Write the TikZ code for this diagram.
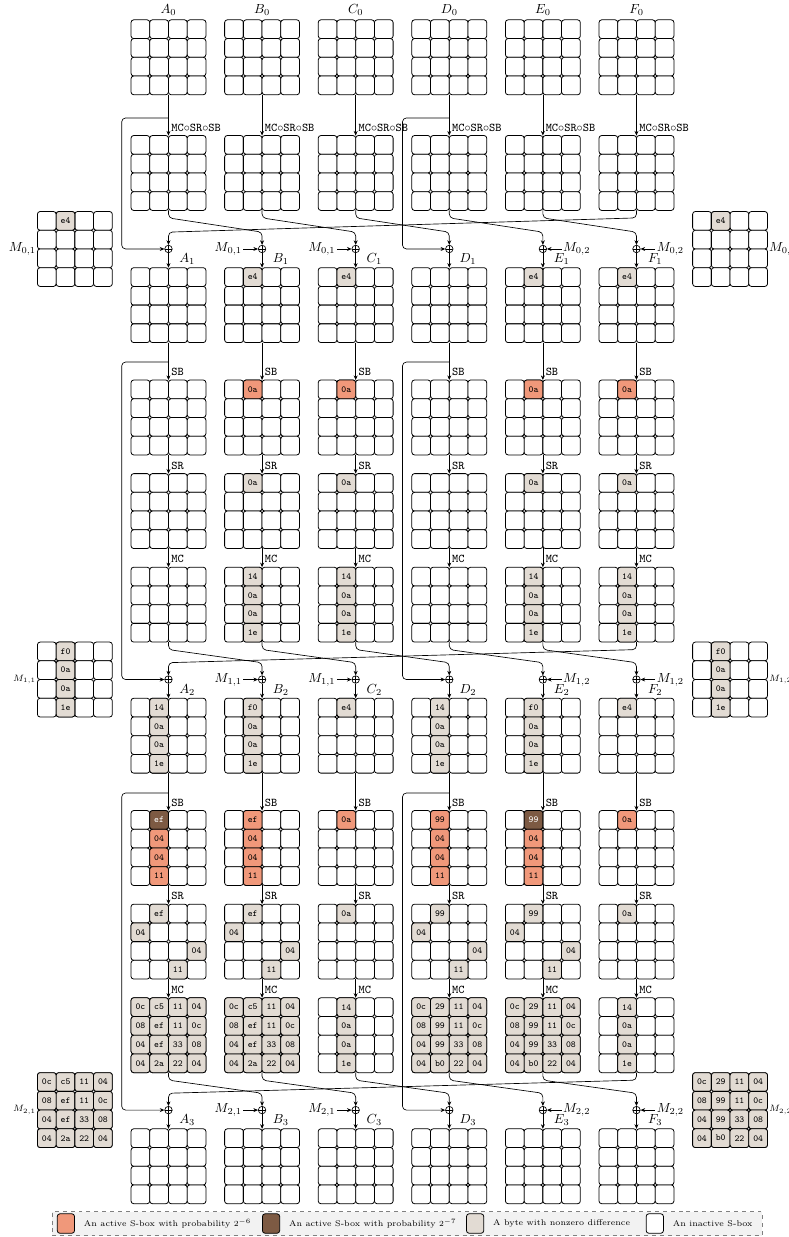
\documentclass[tikz,border=0pt]{standalone}
\usepackage{amssymb}
\usepackage{tikz}
\usetikzlibrary{arrows.meta,positioning,calc}
\definecolor{actsix}{HTML}{F0987A}
\definecolor{actseven}{HTML}{7D5A43}
\definecolor{diffbyte}{HTML}{E2DBD3}
\definecolor{legendbg}{HTML}{F2F2F2}

\newcommand{\sgrid}[2]{%
  \node[gridbox] (#1) at (#2) {};
  \foreach \gx in {0,...,3} \foreach \gy in {0,...,3}
    \node[cell] at ($(#1.north west)+(\gx*0.5+0.25,-\gy*0.5-0.25)$) {};
}
\newcommand{\cellval}[5]{%
  \node[cell,#4] at ($(#1.north west)+(#2*0.5+0.25,-#3*0.5-0.25)$) {#5};}
\newcommand{\colvals}[2]{%
  \foreach \v [count=\k from 0] in {#2} {\cellval{#1}{1}{\k}{dif}{\v}}}
\newcommand{\fullvals}[2]{%
  \foreach \v [count=\k from 0] in {#2} {%
    \pgfmathtruncatemacro\gx{mod(\k,4)}%
    \pgfmathtruncatemacro\gy{div(\k,4)}%
    \cellval{#1}{\gx}{\gy}{dif}{\v}}}

\begin{document}
\begin{tikzpicture}[
gridbox/.style={minimum size=2cm,inner sep=0pt,outer sep=0pt},
cell/.style={draw,rounded corners=2pt,minimum size=0.5cm,inner sep=0pt,line width=0.6pt,
fill=white,font=\ttfamily\scriptsize},
act/.style={fill=actsix},
actb/.style={fill=actseven,text=white},
dif/.style={fill=diffbyte},
xorn/.style={circle,draw,inner sep=0pt,minimum size=0.2cm,line width=0.5pt,
path picture={\draw[line width=0.5pt] (path picture bounding box.north) -- (path picture bounding box.south)
(path picture bounding box.west) -- (path picture bounding box.east);}},
arr/.style={-{Stealth[length=3.5pt,width=3pt]},line width=0.5pt},
oplbl/.style={font=\ttfamily\small,anchor=south west,inner sep=1pt,xshift=1pt,yshift=2pt},
lbl/.style={inner sep=1pt},
legbox/.style={draw=gray,dashed,fill=legendbg,minimum width=18.96cm,minimum height=0.64cm,
inner sep=0pt,line width=0.4pt},
legtxt/.style={font=\fontsize{6.3}{7.5}\selectfont,inner sep=1pt}
]
\useasboundingbox (0,0) rectangle (21.07,-33.04);

\foreach \n/\x in {A/4.5,B/7,C/9.5,D/12,E/14.5,F/17} {
  \sgrid{\n0}{\x,-1.53}
  \sgrid{\n0p}{\x,-4.62}
  \sgrid{\n1}{\x,-8.15}
  \sgrid{\n1sb}{\x,-11.15}
  \sgrid{\n1sr}{\x,-13.65}
  \sgrid{\n1mc}{\x,-16.15}
  \sgrid{\n2}{\x,-19.65}
  \sgrid{\n2sb}{\x,-22.65}
  \sgrid{\n2sr}{\x,-25.15}
  \sgrid{\n2mc}{\x,-27.65}
  \sgrid{\n3}{\x,-31.15}
  \node[xorn] (x\n1) at (\x,-6.65) {};
  \node[xorn] (x\n2) at (\x,-18.15) {};
  \node[xorn] (x\n3) at (\x,-29.65) {};
  \node[above=0pt of \n0] {$\n_0$};
  \node at ($(x\n1)+(0.5,-0.27)$) {$\n_1$};
  \node at ($(x\n2)+(0.5,-0.27)$) {$\n_2$};
  \node at ($(x\n3)+(0.5,-0.27)$) {$\n_3$};
  \draw[arr] (\n0) -- (\n0p); \node[oplbl] at (\n0p.north) {MC$\circ$SR$\circ$SB};
  \draw[arr] (x\n1) -- (\n1);
  \draw[arr] (\n1) -- (\n1sb); \node[oplbl] at (\n1sb.north) {SB};
  \draw[arr] (\n1sb) -- (\n1sr); \node[oplbl] at (\n1sr.north) {SR};
  \draw[arr] (\n1sr) -- (\n1mc); \node[oplbl] at (\n1mc.north) {MC};
  \draw[arr] (x\n2) -- (\n2);
  \draw[arr] (\n2) -- (\n2sb); \node[oplbl] at (\n2sb.north) {SB};
  \draw[arr] (\n2sb) -- (\n2sr); \node[oplbl] at (\n2sr.north) {SR};
  \draw[arr] (\n2sr) -- (\n2mc); \node[oplbl] at (\n2mc.north) {MC};
  \draw[arr] (x\n3) -- (\n3);
}

\foreach \s/\t in {A/B,B/C,C/D,D/E,E/F,F/A} {
  \draw[arr,rounded corners=3pt] (\s0p.south) -- ++(0,-0.2) -- ($(x\t1)+(0,0.45)$) -- (x\t1);
  \draw[arr,rounded corners=3pt] (\s1mc.south) -- ++(0,-0.2) -- ($(x\t2)+(0,0.45)$) -- (x\t2);
  \draw[arr,rounded corners=3pt] (\s2mc.south) -- ++(0,-0.2) -- ($(x\t3)+(0,0.45)$) -- (x\t3);
}

\foreach \n in {A,D} {
  \draw[arr,rounded corners=3pt] ($(\n0p.north)+(0,0.47)$) -- ++(-1.25,0) |- (x\n1);
  \draw[arr,rounded corners=3pt] ($(\n1sb.north)+(0,0.48)$) -- ++(-1.25,0) |- (x\n2);
  \draw[arr,rounded corners=3pt] ($(\n2sb.north)+(0,0.47)$) -- ++(-1.25,0) |- (x\n3);
}

\foreach \n in {B,C} \foreach \r/\m in {1/0,2/1,3/2} {
  \node[lbl,anchor=east] (m\n\r) at ($(x\n\r)+(-0.5,0)$) {$M_{\m,1}$};
  \draw[arr] (m\n\r) -- (x\n\r);
}
\foreach \n in {E,F} \foreach \r/\m in {1/0,2/1,3/2} {
  \node[lbl,anchor=west] (m\n\r) at ($(x\n\r)+(0.5,0)$) {$M_{\m,2}$};
  \draw[arr] (m\n\r) -- (x\n\r);
}

% differences, round 1
\foreach \n in {B,C,E,F} {
  \cellval{\n1}{1}{0}{dif}{e4}
  \cellval{\n1sb}{1}{0}{act}{0a}
  \cellval{\n1sr}{1}{0}{dif}{0a}
  \colvals{\n1mc}{14,0a,0a,1e}
}

% round 2
\colvals{A2}{14,0a,0a,1e}
\colvals{D2}{14,0a,0a,1e}
\colvals{B2}{f0,0a,0a,1e}
\colvals{E2}{f0,0a,0a,1e}
\cellval{C2}{1}{0}{dif}{e4}
\cellval{F2}{1}{0}{dif}{e4}

\cellval{A2sb}{1}{0}{actb}{ef}
\cellval{B2sb}{1}{0}{act}{ef}
\cellval{D2sb}{1}{0}{act}{99}
\cellval{E2sb}{1}{0}{actb}{99}
\foreach \n in {A,B,D,E} {
  \cellval{\n2sb}{1}{1}{act}{04}
  \cellval{\n2sb}{1}{2}{act}{04}
  \cellval{\n2sb}{1}{3}{act}{11}
  \cellval{\n2sr}{0}{1}{dif}{04}
  \cellval{\n2sr}{3}{2}{dif}{04}
  \cellval{\n2sr}{2}{3}{dif}{11}
}
\cellval{A2sr}{1}{0}{dif}{ef}
\cellval{B2sr}{1}{0}{dif}{ef}
\cellval{D2sr}{1}{0}{dif}{99}
\cellval{E2sr}{1}{0}{dif}{99}
\foreach \n in {C,F} {
  \cellval{\n2sb}{1}{0}{act}{0a}
  \cellval{\n2sr}{1}{0}{dif}{0a}
  \colvals{\n2mc}{14,0a,0a,1e}
}
\fullvals{A2mc}{0c,c5,11,04,08,ef,11,0c,04,ef,33,08,04,2a,22,04}
\fullvals{B2mc}{0c,c5,11,04,08,ef,11,0c,04,ef,33,08,04,2a,22,04}
\fullvals{D2mc}{0c,29,11,04,08,99,11,0c,04,99,33,08,04,b0,22,04}
\fullvals{E2mc}{0c,29,11,04,08,99,11,0c,04,99,33,08,04,b0,22,04}

% message blocks
\sgrid{ML0}{2,-6.65}
\cellval{ML0}{1}{0}{dif}{e4}
\node[lbl,left=0pt of ML0] {$M_{0,1}$};
\sgrid{MR0}{19.5,-6.65}
\cellval{MR0}{1}{0}{dif}{e4}
\node[lbl,right=0pt of MR0] {$M_{0,2}$};
\sgrid{ML1}{2,-18.15}
\colvals{ML1}{f0,0a,0a,1e}
\node[lbl,left=0pt of ML1,font=\scriptsize] {$M_{1,1}$};
\sgrid{MR1}{19.5,-18.15}
\colvals{MR1}{f0,0a,0a,1e}
\node[lbl,right=0pt of MR1,font=\scriptsize] {$M_{1,2}$};
\sgrid{ML2}{2,-29.65}
\fullvals{ML2}{0c,c5,11,04,08,ef,11,0c,04,ef,33,08,04,2a,22,04}
\node[lbl,left=0pt of ML2,font=\scriptsize] {$M_{2,1}$};
\sgrid{MR2}{19.5,-29.65}
\fullvals{MR2}{0c,29,11,04,08,99,11,0c,04,99,33,08,04,b0,22,04}
\node[lbl,right=0pt of MR2,font=\scriptsize] {$M_{2,2}$};

% legend
\node[legbox] (leg) at (10.87,-32.68) {};
\node[cell,act,minimum width=0.46cm,minimum height=0.52cm] (k1) at (1.76,-32.68) {};
\node[legtxt,right=0.2cm of k1] {An active S-box with probability $2^{-6}$};
\node[cell,actb,minimum width=0.46cm,minimum height=0.52cm] (k2) at (7.24,-32.68) {};
\node[legtxt,right=0.2cm of k2] {An active S-box with probability $2^{-7}$};
\node[cell,dif,minimum width=0.46cm,minimum height=0.52cm] (k3) at (12.69,-32.68) {};
\node[legtxt,right=0.2cm of k3] {A byte with nonzero difference};
\node[cell,minimum width=0.46cm,minimum height=0.52cm] (k4) at (17.49,-32.68) {};
\node[legtxt,right=0.2cm of k4] {An inactive S-box};
\end{tikzpicture}
\end{document}
